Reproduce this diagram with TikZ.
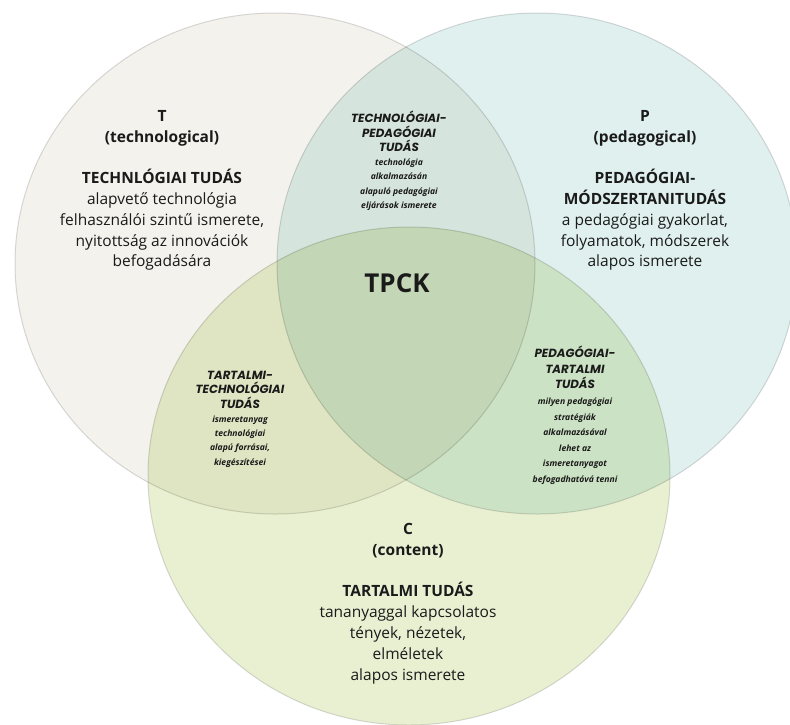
\documentclass[tikz,border=0pt]{standalone}
\usepackage{fontspec}
\setmainfont{Open Sans}
\newfontfamily\notefont{Poppins}

\definecolor{tcol}{HTML}{F4F2EC}
\definecolor{pcol}{HTML}{DFF0EE}
\definecolor{ccol}{HTML}{E9F0D2}
\definecolor{tpcol}{HTML}{D5E4DC}
\definecolor{tccol}{HTML}{DFE4C2}
\definecolor{pccol}{HTML}{CCE2C4}
\definecolor{allcol}{HTML}{C3D6B5}
\definecolor{txt}{HTML}{1A1A1A}

\def\tset{(275,263.5) ellipse [x radius=260pt, y radius=250.5pt]}
\def\pset{(537,263.5) ellipse [x radius=260pt, y radius=250.5pt]}
\def\cset{(409,476) ellipse [x radius=261pt, y radius=249pt]}
\newcommand\hd[1]{{\notefont\fontsize{11.8}{14}\selectfont #1}}

\begin{document}
\begin{tikzpicture}[
    x=1pt, y=-1pt,
    rim/.style={draw=black, draw opacity=0.14, line width=1pt},
    lbl/.style={align=center, inner sep=0pt, anchor=north, text=txt,
        font=\fontsize{15.5}{20.8}\selectfont},
    note/.style={align=center, inner sep=0pt, anchor=north, text=txt,
        font=\fontsize{8.6}{14.3}\selectfont\bfseries\itshape}
]
\useasboundingbox (0,0) rectangle (790,724);
\clip (0,0) rectangle (790,724);
\fill[white] (0,0) rectangle (790,724);

% the three sets
\fill[tcol] \tset;
\fill[pcol] \pset;
\fill[ccol] \cset;

% pairwise overlaps
\begin{scope}
  \clip \tset;
  \fill[tpcol] \pset;
  \fill[tccol] \cset;
\end{scope}
\begin{scope}
  \clip \pset;
  \fill[pccol] \cset;
\end{scope}

% common part
\begin{scope}
  \clip \tset;
  \clip \pset;
  \fill[allcol] \cset;
\end{scope}

% outlines
\draw[rim] \tset;
\draw[rim] \pset;
\draw[rim] \cset;

% set labels
\node[lbl] (tech) at (162,110) {\textbf{T}\\\textbf{(technological)}\\[20.8pt]
    \textbf{TECHNLÓGIAI TUDÁS}\\alapvető technológia\\felhasználói szintű ismerete,\\
    nyitottság az innovációk\\befogadására};
\node[lbl] (ped) at (645,110) {\textbf{P}\\\textbf{(pedagogical)}\\[20.8pt]
    \textbf{PEDAGÓGIAI-}\\\textbf{MÓDSZERTANITUDÁS}\\a pedagógiai gyakorlat,\\
    folyamatok, módszerek\\alapos ismerete};
\node[lbl] (cont) at (408,523) {\textbf{C}\\\textbf{(content)}\\[20.8pt]
    \textbf{TARTALMI TUDÁS}\\tananyaggal kapcsolatos\\tények, nézetek,\\
    elméletek\\alapos ismerete};

% overlap labels
\node[note] (tp) at (399,111) {\hd{TECHNOLÓGIAI-}\\\hd{PEDAGÓGIAI}\\\hd{TUDÁS}\\
    technológia\\alkalmazásán\\alapuló pedagógiai\\eljárások ismerete};
\node[note] (tc) at (240,371) {\hd{TARTALMI-}\\\hd{TECHNOLÓGIAI}\\\hd{TUDÁS}\\
    ismeretanyag\\technológiai\\alapú forrásai,\\kiegészítései};
\node[note, font=\fontsize{8.6}{15.6}\selectfont\bfseries\itshape] (pc) at (575,346)
    {\hd{PEDAGÓGIAI-}\\\hd{TARTALMI}\\\hd{TUDÁS}\\
    milyen pedagógiai\\stratégiák\\alkalmazásával\\lehet az\\ismeretanyagot\\befogadhatóvá tenni};

% centre
\node[text=txt, font=\fontsize{26}{30}\selectfont\bfseries] (tpck) at (397,283) {TPCK};

\end{tikzpicture}
\end{document}
